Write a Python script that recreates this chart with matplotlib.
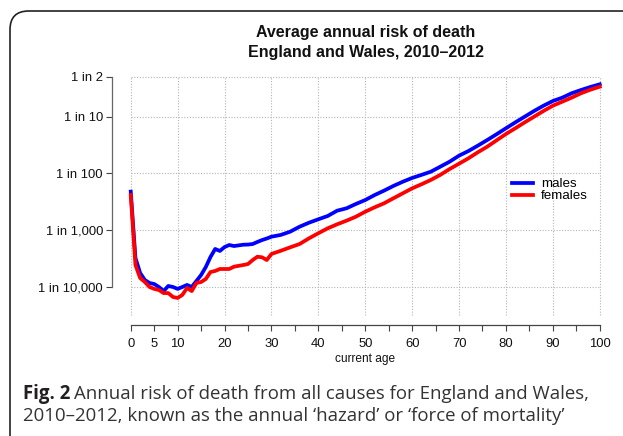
import matplotlib
matplotlib.use('Agg')
import matplotlib.pyplot as plt
from matplotlib.patches import FancyBboxPatch
from matplotlib.ticker import NullLocator
import numpy as np

# ages (yearly to 21, then mostly every 2 years)
ages = list(range(0, 22)) + [22, 24, 25, 26, 27, 28, 29, 30] + list(range(32, 101, 2))

# annual risk as "1 in N"
males_one_in = [209, 3080, 5670, 7530, 8500, 8860, 10000, 11800, 9600, 10000, 10800,
                10000, 9200, 10000, 7840, 6150, 4450, 2960, 2140, 2320, 1980, 1820,
                1900, 1800, 1790, 1750, 1610, 1490, 1400, 1300,
                1210, 1060, 867, 737, 642, 561, 453, 411, 345, 294,
                240, 201, 166, 140, 120, 106, 93, 76, 62, 48.6,
                40.3, 32.4, 25.8, 20.4, 16.0, 12.6, 10.0, 7.94, 6.41, 5.30,
                4.63, 3.87, 3.39, 3.00, 2.69]
females_one_in = [240, 4100, 6950, 8170, 10000, 10800, 11300, 12800, 12800, 15000, 15600,
                  13800, 10400, 11800, 8500, 8170, 7230, 5450, 5220, 4820, 4820, 4820,
                  4390, 4100, 3940, 3350, 2930, 3000, 3350, 2620,
                  2300, 2000, 1750, 1390, 1130, 925, 787, 679, 578, 472,
                  395, 336, 274, 224, 183, 155, 130, 106, 83.6, 67.3,
                  54.1, 42.4, 33.8, 26.1, 20.2, 16.0, 12.6, 10.0, 7.94, 6.41,
                  5.45, 4.63, 3.87, 3.35, 2.97]

y_ticks = [2, 10, 100, 1000, 10000]
y_labels = ['1 in 2', '1 in 10', '1 in 100', '1 in 1,000', '1 in 10,000']
x_ticks = list(range(0, 101, 5))
x_labels = ['0', '5', '10', '', '20', '', '30', '', '40', '', '50', '', '60', '', '70',
            '', '80', '', '90', '', '100']
x_grid = list(range(0, 101, 10))

males = 1 / np.array(males_one_in)
females = 1 / np.array(females_one_in)

W, H = 623, 436
fig = plt.figure(figsize=(W / 100, H / 100), dpi=100)
ax = fig.add_axes([112 / W, 1 - 325 / H, 506.5 / W, 255 / H])

font = 'Liberation Sans'

ax.set_yscale('log')
ax.set_xlim(-4, 104)
ax.set_ylim(2.14e-5, 0.664)

# dotted grid, limited to the data range like the original
risk_ticks = [1 / t for t in y_ticks]
ax.hlines(risk_ticks, 0, 100, colors='#b5b5b5', linestyles=(0, (1, 1.5)), lw=0.8, zorder=1)
ax.vlines(x_grid, 3.2e-5, 0.5, colors='#b5b5b5', linestyles=(0, (1, 1.5)), lw=0.8, zorder=1)

ax.plot(ages, males, color='#0000ff', lw=2.7, label='males', zorder=3)
ax.plot(ages, females, color='#ff0000', lw=2.7, label='females', zorder=3)

for s in ['top', 'right']:
    ax.spines[s].set_visible(False)
ax.spines['left'].set_bounds(min(risk_ticks), max(risk_ticks))
ax.spines['bottom'].set_bounds(0, 100)
ax.spines['left'].set_color('#666666')
ax.spines['bottom'].set_color('#444444')
ax.spines['left'].set_linewidth(0.9)
ax.spines['bottom'].set_linewidth(0.9)

ax.set_yticks(risk_ticks)
ax.set_yticklabels(y_labels)
ax.yaxis.set_minor_locator(NullLocator())
ax.set_xticks(x_ticks)
ax.set_xticklabels(x_labels)
ax.tick_params(axis='both', direction='out', length=4, width=0.8, color='#444444',
               labelsize=9.4, labelcolor='#111111')
ax.tick_params(axis='y', pad=2.5)
ax.tick_params(axis='x', pad=5)
for lab in ax.get_xticklabels() + ax.get_yticklabels():
    lab.set_fontfamily(font)

ax.set_xlabel('current age', fontsize=8.6, family=font, color='#111111', labelpad=2.5)

leg = ax.legend(loc='upper left', bbox_to_anchor=(512 / W, 1 - 178 / H),
                bbox_transform=fig.transFigure, frameon=False, borderpad=0,
                borderaxespad=0, handlelength=1.55, handletextpad=0.6,
                labelspacing=-0.02, prop={'family': font, 'size': 9.6})

fig.text(366 / W, 1 - 33 / H, 'Average annual risk of death', ha='center', va='center',
         fontsize=11.5, fontweight='bold', family=font, color='#111111')
fig.text(366 / W, 1 - 53 / H, 'England and Wales, 2010\u20132012', ha='center', va='center',
         fontsize=11.5, fontweight='bold', family=font, color='#111111')

# caption below the plot
cap_font = 'Open Sans'
cap_size = 13.4
fig_lbl = fig.text(23 / W, 1 - 399 / H, 'Fig. 2', ha='left', va='baseline',
                   fontsize=cap_size, fontweight='bold', family=cap_font, color='#231f20')
fig.canvas.draw()
bb = fig_lbl.get_window_extent()
fig.text((bb.x1 + 4) / W, 1 - 399 / H,
         'Annual risk of death from all causes for England and Wales,',
         ha='left', va='baseline', fontsize=cap_size, family=cap_font, color='#333333')
fig.text(23 / W, 1 - 421 / H,
         '2010\u20132012, known as the annual \u2018hazard\u2019 or \u2018force of mortality\u2019',
         ha='left', va='baseline', fontsize=cap_size, family=cap_font, color='#333333')

# rounded frame running off the right and bottom edges
frame = FancyBboxPatch((10 / W, -0.1), 1.2, (1 - 11 / H) + 0.1,
                       boxstyle='round,pad=0,rounding_size=0.03',
                       transform=fig.transFigure, fill=False, ec='#222222', lw=1.2,
                       mutation_aspect=W / H)
fig.add_artist(frame)

fig.savefig('out.png', dpi=100)
